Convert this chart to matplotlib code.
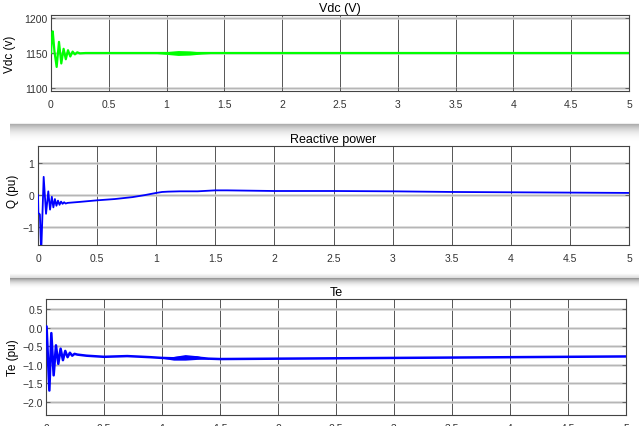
import numpy as np
import matplotlib
matplotlib.use("Agg")
import matplotlib.pyplot as plt

plt.rcParams['font.family'] = ['Liberation Sans', 'DejaVu Sans']

# Vdc (V)
vdc_t = [0, 0.005, 0.015, 0.03, 0.049, 0.069, 0.089, 0.109, 0.128, 0.147, 0.167,
         0.187, 0.207, 0.227, 0.25, 0.3, 0.5, 1.0, 2.0, 3.0, 4.0, 5.0]
vdc_v = [1150, 1165, 1181, 1152, 1130, 1166, 1135, 1156, 1141, 1154, 1145,
         1152, 1148, 1151, 1149.5, 1150, 1150, 1150, 1150, 1150, 1150, 1150]
vdc_band_t = [0.9, 1.0, 1.1, 1.2, 1.3, 1.4]
vdc_band_lo = [1149.5, 1148, 1146.5, 1147, 1148.5, 1149.5]
vdc_band_hi = [1150.5, 1152, 1153.5, 1153, 1151.5, 1150.5]

# Reactive power (pu)
q_t = [0, 0.003, 0.016, 0.027, 0.048, 0.068, 0.087, 0.102, 0.117, 0.13, 0.143,
       0.156, 0.169, 0.182, 0.195, 0.208, 0.221, 0.234, 0.25, 0.35, 0.5, 0.65,
       0.8, 0.9, 1.0, 1.05, 1.1, 1.2, 1.35, 1.5, 1.6, 1.8, 2.0, 2.5, 3.0, 3.5,
       4.0, 4.5, 5.0]
q_v = [0, -0.55, -0.6, -1.8, 0.57, -0.58, 0.12, -0.45, -0.05, -0.38, -0.12,
       -0.33, -0.17, -0.3, -0.2, -0.27, -0.22, -0.26, -0.24, -0.21, -0.16, -0.12,
       -0.06, 0.0, 0.07, 0.1, 0.11, 0.12, 0.12, 0.15, 0.15, 0.14, 0.13, 0.13, 0.12,
       0.1, 0.09, 0.08, 0.07]

# Te (pu)
te_t = [0, 0.005, 0.029, 0.046, 0.066, 0.086, 0.106, 0.126, 0.146, 0.166, 0.186,
        0.206, 0.226, 0.246, 0.27, 0.35, 0.5, 0.7, 0.9, 1.0, 1.1, 1.2, 1.3, 1.4,
        1.5, 2.0, 2.5, 3.0, 3.5, 4.0, 4.5, 5.0]
te_v = [0.03, 0.03, -1.7, -0.15, -1.29, -0.48, -0.98, -0.57, -0.88, -0.63, -0.8,
        -0.68, -0.76, -0.71, -0.73, -0.76, -0.79, -0.77, -0.8, -0.82, -0.83, -0.8,
        -0.81, -0.84, -0.85, -0.84, -0.83, -0.82, -0.81, -0.8, -0.79, -0.78]
te_band_t = [1.0, 1.1, 1.2, 1.3, 1.4]
te_band_lo = [-0.83, -0.88, -0.88, -0.86, -0.85]
te_band_hi = [-0.81, -0.78, -0.73, -0.76, -0.83]

x_ticks = [0, 0.5, 1, 1.5, 2, 2.5, 3, 3.5, 4, 4.5, 5]
x_labels = ['0', '0.5', '1', '1.5', '2', '2.5', '3', '3.5', '4', '4.5', '5']

W, H = 639, 427
fig = plt.figure(figsize=(W / 100, H / 100), dpi=100)


def px_axes(left, top, right, bottom):
    return fig.add_axes([left / W, 1 - bottom / H, (right - left) / W, (bottom - top) / H])


def style(ax, yticks, ylim):
    ax.set_xlim(0, 5)
    ax.set_ylim(*ylim)
    ax.set_xticks(x_ticks)
    ax.set_xticklabels(x_labels)
    ax.set_yticks(yticks)
    ax.tick_params(direction='in', length=3, width=0.6, labelsize=7.5,
                   labelcolor='#333333', color='#555555', right=True, top=False)
    ax.tick_params(axis='x', pad=6)
    ax.tick_params(axis='y', pad=2.5)
    for s in ax.spines.values():
        s.set_color('#444444')
        s.set_linewidth(0.8)
    for x in x_ticks[1:-1]:
        ax.axvline(x, color='#555555', lw=0.7, zorder=1)
    for y in yticks:
        ax.axhline(y, color='#d2d2d2', lw=1.8, zorder=1)
        ax.axhline(y, color='#ababab', lw=0.5, zorder=1)


def separator(top, bottom, line_px, dark):
    # grey window divider between the panels
    h = bottom - top
    sax = fig.add_axes([10 / W, 1 - bottom / H, (W - 10) / W, h / H], zorder=-5)
    rows = np.arange(h) - line_px
    g = np.where(rows < 0, 1 - (1 - dark) * 0.4 * (1 + rows / max(line_px, 1)),
                 1 - (1 - dark) * (1 - rows / (h - line_px)) ** 2.6)
    g[line_px] = dark
    sax.imshow(g[:, None] * np.ones((1, 10)), cmap='gray', vmin=0, vmax=1,
               aspect='auto', extent=[0, 1, 0, 1], interpolation='bilinear')
    sax.axis('off')


separator(123, 145, 2, 0.68)
separator(274, 291, 5, 0.6)

# Vdc
ax1 = px_axes(51, 16, 629, 92)
style(ax1, [1100, 1150, 1200], (1095.5, 1204.5))
ax1.fill_between(vdc_band_t, vdc_band_lo, vdc_band_hi, color='#00ff00', lw=0, zorder=3)
ax1.plot(vdc_t, vdc_v, color='#00ff00', lw=1.6, zorder=3)
ax1.set_title('Vdc (V)', fontsize=9, pad=3)
ax1.set_ylabel('Vdc (v)', fontsize=8.5)
ax1.yaxis.set_label_coords(-0.06, 0.5)

# Reactive power
ax2 = px_axes(38, 147, 629, 246)
style(ax2, [-1, 0, 1], (-1.55, 1.53))
ax2.plot(q_t, q_v, color='#0000ff', lw=1.3, zorder=3)
ax2.set_title('Reactive power', fontsize=9, pad=3)
ax2.set_ylabel('Q (pu)', fontsize=8.5)
ax2.yaxis.set_label_coords(-0.032, 0.55)

# Te
ax3 = px_axes(46, 300, 626, 416)
style(ax3, [-2, -1.5, -1, -0.5, 0, 0.5], (-2.36, 0.77))
ax3.fill_between(te_band_t, te_band_lo, te_band_hi, color='#0000ff', lw=0, zorder=3)
ax3.plot(te_t, te_v, color='#0000ff', lw=1.8, zorder=3)
ax3.set_title('Te', fontsize=9, pad=3)
ax3.set_ylabel('Te (pu)', fontsize=8.5)
ax3.yaxis.set_label_coords(-0.046, 0.5)

fig.savefig('out.png', dpi=100)
